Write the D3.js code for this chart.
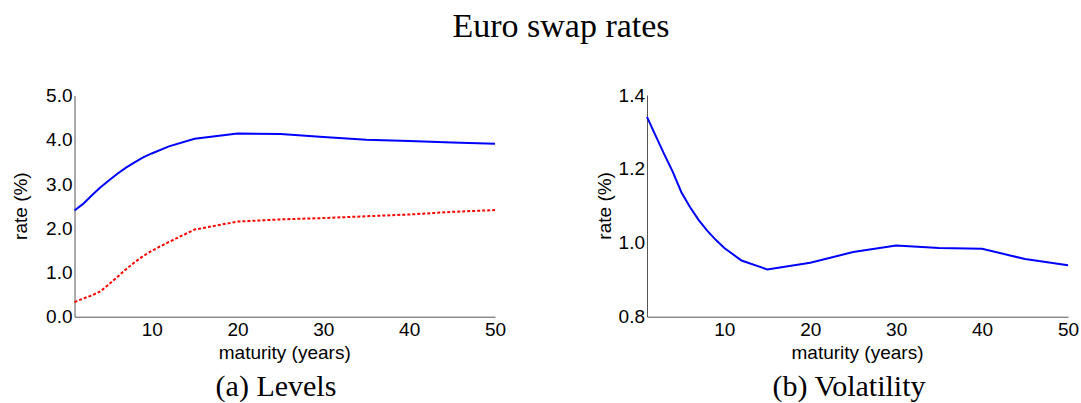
<!DOCTYPE html>
<html>
<head>
<meta charset="utf-8">
<script src="https://cdn.jsdelivr.net/npm/d3@7"></script>
<style>
  body { margin: 0; background: #fff; }
  svg { display: block; }
</style>
</head>
<body>
<div id="chart"></div>
<script>
// maturities (years) and values
var maturities = [1, 2, 3, 4, 5, 6, 7, 8, 9, 10, 12, 15, 20, 25, 30, 35, 40, 45, 50];
var levelMean = [2.40, 2.55, 2.74, 2.92, 3.08, 3.23, 3.37, 3.49, 3.60, 3.69, 3.85, 4.02, 4.14, 4.13, 4.06, 4.00, 3.97, 3.94, 3.91];
var levelLow = [0.33, 0.41, 0.48, 0.57, 0.73, 0.90, 1.07, 1.23, 1.37, 1.49, 1.69, 1.97, 2.15, 2.20, 2.23, 2.27, 2.31, 2.37, 2.41];
var volatility = [1.341, 1.29, 1.24, 1.192, 1.137, 1.097, 1.062, 1.033, 1.008, 0.986, 0.952, 0.928, 0.946, 0.975, 0.993, 0.986, 0.984, 0.956, 0.939];
var xTicks = [10, 20, 30, 40, 50];
var levelTicks = [0, 1, 2, 3, 4, 5];
var volTicks = [0.8, 1.0, 1.2, 1.4];

var W = 1081, H = 403;
var sans = "'Liberation Sans', Arial, sans-serif";
var serif = "'Liberation Serif', 'Times New Roman', serif";

var svg = d3.select("#chart").append("svg")
  .attr("width", W)
  .attr("height", H);

svg.append("rect").attr("width", W).attr("height", H).attr("fill", "#fff");

svg.append("text")
  .attr("x", 561)
  .attr("y", 37)
  .attr("text-anchor", "middle")
  .style("font-family", serif)
  .style("font-size", "34px")
  .text("Euro swap rates");

function panel(opts) {
  var x = d3.scaleLinear().domain([1, 50]).range([opts.left, opts.right]);
  var y = d3.scaleLinear().domain(opts.yDomain).range([opts.bottom, opts.top]);

  var g = svg.append("g");

  var xAxis = g.append("g")
    .attr("transform", "translate(0," + opts.bottom + ")")
    .call(d3.axisBottom(x).tickValues(xTicks).tickSize(0).tickPadding(6).tickSizeOuter(0));

  var yAxis = g.append("g")
    .attr("transform", "translate(" + opts.left + ",0)")
    .call(d3.axisLeft(y).tickValues(opts.yTicks).tickFormat(d3.format(".1f")).tickSize(0).tickPadding(2).tickSizeOuter(0));

  [xAxis, yAxis].forEach(function (a) {
    a.select(".domain").attr("stroke", "#555").attr("stroke-width", 1);
    a.selectAll("text")
      .attr("fill", "#000")
      .style("font-family", sans)
      .style("font-size", "19px");
  });

  opts.series.forEach(function (s) {
    var line = d3.line()
      .x(function (d, i) { return x(maturities[i]); })
      .y(function (d) { return y(d); });
    g.append("path")
      .datum(s.values)
      .attr("fill", "none")
      .attr("stroke", s.color)
      .attr("stroke-width", 2)
      .attr("stroke-dasharray", s.dash || null)
      .attr("d", line);
  });

  g.append("text")
    .attr("x", (opts.left + opts.right) / 2)
    .attr("y", 358.5)
    .attr("text-anchor", "middle")
    .style("font-family", sans)
    .style("font-size", "19px")
    .text("maturity (years)");

  g.append("text")
    .attr("transform", "translate(" + opts.yLabelX + "," + ((opts.top + opts.bottom) / 2) + ") rotate(-90)")
    .attr("text-anchor", "middle")
    .style("font-family", sans)
    .style("font-size", "19px")
    .text("rate (%)");

  g.append("text")
    .attr("x", opts.captionX)
    .attr("y", 396)
    .attr("text-anchor", "middle")
    .style("font-family", serif)
    .style("font-size", "30px")
    .text(opts.caption);
}

panel({
  left: 74.5, right: 495, top: 95.5, bottom: 316.7,
  yDomain: [0, 5], yTicks: levelTicks, yLabelX: 27,
  series: [
    { values: levelMean, color: "#0000ff" },
    { values: levelLow, color: "#ff0000", dash: "3,2" }
  ],
  caption: "(a) Levels", captionX: 276
});

panel({
  left: 647, right: 1068, top: 95, bottom: 316.7,
  yDomain: [0.8, 1.4], yTicks: volTicks, yLabelX: 611,
  series: [
    { values: volatility, color: "#0000ff" }
  ],
  caption: "(b) Volatility", captionX: 849
});
</script>
</body>
</html>
